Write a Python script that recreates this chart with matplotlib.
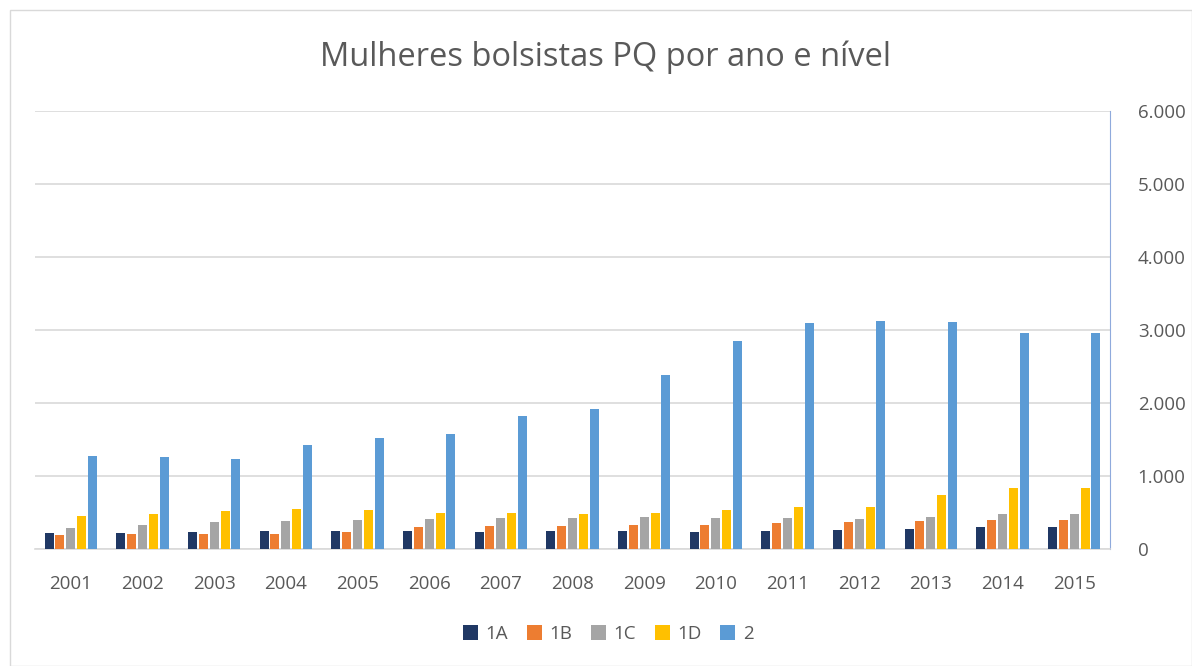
import numpy as np
import matplotlib
matplotlib.use('Agg')
import matplotlib.pyplot as plt
from matplotlib.patches import Rectangle

anos = ['2001', '2002', '2003', '2004', '2005', '2006', '2007', '2008',
        '2009', '2010', '2011', '2012', '2013', '2014', '2015']
n1A = [220, 220, 234, 248, 248, 243, 234, 243, 243, 234, 252, 257, 280, 307, 303]
n1B = [193, 202, 202, 202, 239, 298, 317, 321, 326, 330, 358, 367, 390, 404, 404]
n1C = [289, 326, 372, 385, 399, 413, 427, 431, 436, 427, 427, 413, 440, 482, 486]
n1D = [454, 482, 523, 550, 528, 495, 495, 482, 495, 532, 578, 578, 734, 839, 830]
n2 = [1280, 1257, 1239, 1427, 1514, 1573, 1826, 1915, 2385, 2850, 3095, 3120, 3110, 2960, 2960]

series = [('1A', n1A, '#203864'), ('1B', n1B, '#ED7D31'), ('1C', n1C, '#A5A5A5'),
          ('1D', n1D, '#FFC000'), ('2', n2, '#5B9BD5')]

plt.rcParams['font.family'] = ['Open Sans', 'DejaVu Sans']

fig = plt.figure(figsize=(11.92, 6.66), dpi=100)
fig.patches.append(Rectangle((10/1192, 0), 1 - 10/1192, 1 - 10/666, transform=fig.transFigure,
                             fill=False, edgecolor='#D9D9D9', linewidth=1))
ax = fig.add_axes([35/1192, 1 - 549/666, 1075/1192, 438/666])

x = np.arange(len(anos))
w = 0.125
step = 0.152
for i, (nome, vals, cor) in enumerate(series):
    ax.bar(x + (i - 2) * step, vals, width=w, color=cor, label=nome, zorder=3)

ax.set_xlim(-0.5, len(anos) - 0.5)
ax.set_ylim(0, 6000)
ax.set_yticks(range(0, 6001, 1000))
ax.set_yticklabels(['0', '1.000', '2.000', '3.000', '4.000', '5.000', '6.000'])
ax.yaxis.tick_right()
ax.set_xticks(x)
ax.set_xticklabels(anos)
ax.tick_params(axis='both', length=0, labelsize=13.5, colors='#595959')
ax.tick_params(axis='y', pad=20)
ax.tick_params(axis='x', pad=19)
ax.grid(axis='y', color='#D9D9D9', linewidth=1.2, zorder=0)
for s in ['top', 'left']:
    ax.spines[s].set_visible(False)
ax.spines['bottom'].set_color('#D9D9D9')
ax.spines['bottom'].set_linewidth(1.2)
ax.spines['right'].set_color('#8FAADC')

fig.text(605/1192, 1 - 57/666, 'Mulheres bolsistas PQ por ano e nível', ha='center', va='center',
         fontsize=23.5, color='#595959')
fig.legend(loc='center', bbox_to_anchor=(608/1192, 1 - 634/666), ncol=5, frameon=False,
           fontsize=13.5, labelcolor='#595959', handlelength=0.8, handleheight=0.8,
           handletextpad=0.4, columnspacing=1.0)

fig.savefig('out.png', dpi=100)
